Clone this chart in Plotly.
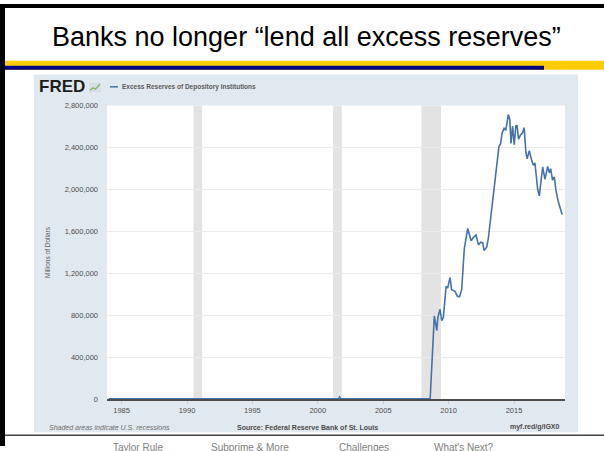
import plotly.graph_objects as go

W, H = 604, 451

# ---- data (millions of dollars) ----
dates = [
    "1984-01-01", "1986-01-01", "1988-01-01", "1990-01-01", "1992-01-01", "1994-01-01",
    "1996-01-01", "1998-01-01", "2000-01-01", "2001-08-01", "2001-09-01", "2001-10-01",
    "2003-01-01", "2005-01-01", "2007-01-01", "2008-08-04",
    "2008-11-28", "2009-02-06", "2009-03-07", "2009-05-08", "2009-06-24", "2009-08-07",
    "2009-10-23", "2009-12-06", "2010-02-10", "2010-03-25", "2010-06-28", "2010-09-02",
    "2010-10-31", "2011-01-01", "2011-03-15", "2011-06-18", "2011-09-20", "2011-11-25",
    "2012-02-06", "2012-04-12", "2012-06-18", "2012-08-11", "2012-09-16", "2012-11-28",
    "2013-01-12", "2013-06-03", "2013-09-02", "2013-11-06", "2013-12-20", "2014-02-06",
    "2014-04-01", "2014-05-19", "2014-07-24", "2014-09-06", "2014-10-09", "2014-11-22",
    "2015-01-08", "2015-02-21", "2015-03-25", "2015-05-08", "2015-07-02", "2015-08-29",
    "2015-10-12", "2015-11-28", "2016-01-04", "2016-03-03", "2016-05-08", "2016-06-25",
    "2016-08-08", "2016-09-24", "2016-10-23", "2016-12-09", "2017-01-26", "2017-03-11",
    "2017-05-16", "2017-07-28", "2017-09-13", "2017-10-19", "2017-12-13", "2018-01-30",
    "2018-03-15", "2018-05-19", "2018-09-06",
]
excess_reserves = [
    1200, 1500, 1100, 1300, 1200, 1400,
    1300, 1400, 1200, 1300, 19000, 2000,
    1700, 1800, 1700, 2000,
    793000, 653000, 777000, 855000, 746000, 777000,
    1074000, 1058000, 1158000, 1042000, 1026000, 980000,
    975000, 1042000, 1432000, 1626000, 1510000, 1542000,
    1564000, 1470000, 1495000, 1489000, 1417000, 1448000,
    1526000, 1963000, 2213000, 2407000, 2432000, 2541000,
    2582000, 2563000, 2713000, 2666000, 2438000, 2604000,
    2425000, 2604000, 2613000, 2478000, 2519000, 2541000,
    2588000, 2354000, 2291000, 2369000, 2276000, 2229000,
    2251000, 2041000, 2000000, 1938000, 2088000, 2213000,
    2094000, 2219000, 2157000, 2197000, 2088000, 2119000,
    1994000, 1885000, 1760000,
]
recession_start = ["1990-07-01", "2001-03-01", "2007-12-01"]
recession_end = ["1991-03-01", "2001-11-01", "2009-06-01"]
y_ticks = [0, 400000, 800000, 1200000, 1600000, 2000000, 2400000, 2800000]
x_ticks = ["1985-01-01", "1990-01-01", "1995-01-01", "2000-01-01", "2005-01-01", "2010-01-01", "2015-01-01"]
x_tick_labels = ["1985", "1990", "1995", "2000", "2005", "2010", "2015"]

title_text = "Banks no longer “lend all excess reserves”"
series_name = "Excess Reserves of Depository Institutions"
footer_items = ["Taylor Rule", "Subprime & More", "Challenges", "What's Next?"]


def px(x):
    return x / W


def py(y):
    return 1 - y / H


BLUE = "#4572a7"
PANEL = "#e1e9f0"
FONT = "Liberation Sans, Arial"

fig = go.Figure()
fig.add_trace(go.Scatter(x=dates, y=excess_reserves, mode="lines",
                         line=dict(color=BLUE, width=1.6), showlegend=False,
                         hoverinfo="x+y"))

shapes = []
# slide black border (top, left)
shapes.append(dict(type="rect", xref="paper", yref="paper", x0=0, x1=1, y0=py(4), y1=1,
                   fillcolor="black", line_width=0, layer="below"))
shapes.append(dict(type="rect", xref="paper", yref="paper", x0=0, x1=px(5), y0=0, y1=1,
                   fillcolor="black", line_width=0, layer="below"))
# yellow and navy bars
shapes.append(dict(type="rect", xref="paper", yref="paper", x0=px(5), x1=1, y0=py(67), y1=py(58),
                   fillcolor="#ffcc00", line_width=0, layer="below"))
shapes.append(dict(type="rect", xref="paper", yref="paper", x0=px(5), x1=px(544), y0=py(67), y1=py(63),
                   fillcolor="#000080", line_width=0, layer="below"))
# FRED panel
shapes.append(dict(type="rect", xref="paper", yref="paper", x0=px(34), x1=px(578), y0=py(437), y1=py(72),
                   fillcolor=PANEL, line_width=0, layer="below"))
# white plotting area
shapes.append(dict(type="rect", xref="paper", yref="paper", x0=px(107), x1=px(565), y0=py(403), y1=py(103.5),
                   fillcolor="white", line_width=0, layer="below"))
# footer line
shapes.append(dict(type="line", xref="paper", yref="paper", x0=px(5), x1=1, y0=py(440), y1=py(440),
                   line=dict(color="#444444", width=1.5)))
# legend dash
shapes.append(dict(type="line", xref="paper", yref="paper", x0=px(110), x1=px(118), y0=py(84.5), y1=py(84.5),
                   line=dict(color=BLUE, width=1.5)))
# small FRED icon
shapes.append(dict(type="rect", xref="paper", yref="paper", x0=px(89), x1=px(101), y0=py(90), y1=py(80),
                   fillcolor="#d7dee6", line_width=0))
shapes.append(dict(type="path", xref="paper", yref="paper",
                   path=f"M {px(90)},{py(88)} L {px(93)},{py(85.5)} L {px(95.5)},{py(87)} L {px(100)},{py(81.5)}",
                   line=dict(color="#7fae5a", width=1.2)))
# recessions
for s, e in zip(recession_start, recession_end):
    shapes.append(dict(type="rect", xref="x", yref="y domain", x0=s, x1=e, y0=0, y1=1,
                       fillcolor="#e3e3e3", line_width=0, layer="below"))

annotations = []
annotations.append(dict(text=title_text, x=px(306), y=py(33.5), xref="paper", yref="paper",
                        showarrow=False, xanchor="center", yanchor="middle",
                        font=dict(family=FONT, size=27, color="black")))
annotations.append(dict(text="<b>FRED</b>", x=px(37), y=py(84.5), xref="paper", yref="paper",
                        showarrow=False, xanchor="left", yanchor="middle",
                        font=dict(family=FONT, size=17, color="#1e1e1e")))
annotations.append(dict(text="<b>" + series_name + "</b>", x=px(120), y=py(84.5), xref="paper", yref="paper",
                        showarrow=False, xanchor="left", yanchor="middle",
                        font=dict(family=FONT, size=6.5, color="#5a5a5a")))
annotations.append(dict(text="Millions of Dollars", x=px(48), y=py(253), xref="paper", yref="paper",
                        showarrow=False, xanchor="center", yanchor="middle", textangle=-90,
                        font=dict(family=FONT, size=6.5, color="#595959")))
annotations.append(dict(text="<i>Shaded areas indicate U.S. recessions</i>", x=px(47), y=py(432),
                        xref="paper", yref="paper", showarrow=False, xanchor="left", yanchor="middle",
                        font=dict(family=FONT, size=7, color="#6b6b6b")))
annotations.append(dict(text="<b>Source: Federal Reserve Bank of St. Louis</b>", x=px(307), y=py(432),
                        xref="paper", yref="paper", showarrow=False, xanchor="center", yanchor="middle",
                        font=dict(family=FONT, size=7, color="#4a4a4a")))
annotations.append(dict(text="<b>myf.red/g/lGX0</b>", x=px(562), y=py(432),
                        xref="paper", yref="paper", showarrow=False, xanchor="right", yanchor="middle",
                        font=dict(family=FONT, size=7, color="#4a4a4a")))
footer_x = [138, 250, 364, 464]
for t, fx in zip(footer_items, footer_x):
    annotations.append(dict(text=t, x=px(fx), y=py(445), xref="paper", yref="paper",
                            showarrow=False, xanchor="center", yanchor="top",
                            font=dict(family=FONT, size=10, color="#808080")))

fig.update_layout(
    width=W, height=H,
    margin=dict(l=0, r=0, t=0, b=0),
    paper_bgcolor="white",
    plot_bgcolor="white",
    shapes=shapes,
    annotations=annotations,
    xaxis=dict(domain=[px(107), px(565)], type="date",
               range=["1983-11-20", "2018-11-25"],
               tickvals=x_ticks, ticktext=x_tick_labels,
               showgrid=False, zeroline=False,
               showline=True, linecolor="#4d4d4d", linewidth=2,
               ticks="outside", ticklen=3, tickcolor="#cccccc",
               tickfont=dict(family=FONT, size=7.5, color="#4d4d4d"),
               fixedrange=True),
    yaxis=dict(domain=[py(403), py(103.5)],
               range=[0, 2800000],
               tickvals=y_ticks, ticktext=[f"{v:,}" for v in y_ticks],
               showgrid=True, gridcolor="#ececec", gridwidth=1,
               zeroline=False, showline=False,
               ticks="", ticklabelstandoff=8,
               tickfont=dict(family=FONT, size=7.5, color="#4d4d4d"),
               fixedrange=True),
)

fig.write_html("out.html", config={"displayModeBar": False},
               post_script="document.body.style.margin='0';document.body.style.overflow='hidden';")
